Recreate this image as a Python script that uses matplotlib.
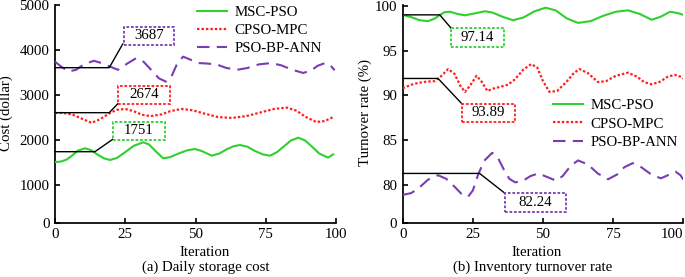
import matplotlib
matplotlib.use("Agg")
import matplotlib.pyplot as plt
from matplotlib.patches import Rectangle

plt.rcParams['font.family'] = ['Liberation Serif', 'DejaVu Serif']
FS = 10.7

# ---------------- data: (a) Daily storage cost ----------------
cost_msc_x = [0, 2, 4, 6, 8, 10.7, 13, 15, 17.5, 19.6, 22, 25, 28, 31.4, 33.5, 35.5, 38.5, 41, 44, 47,
              49.8, 52, 55.8, 58.5, 61, 63.5, 65.8, 68.5, 71, 74, 76.5, 79, 81.5, 84, 86.6, 89, 91.5, 94,
              97.2, 99]
cost_msc_y = [1510, 1520, 1560, 1650, 1760, 1816, 1770, 1680, 1590, 1556, 1600, 1730, 1870, 1949, 1900,
              1770, 1593, 1620, 1700, 1770, 1800, 1760, 1651, 1700, 1790, 1860, 1889, 1850, 1760, 1680,
              1651, 1730, 1860, 1990, 2051, 1990, 1850, 1700, 1607, 1682]
cost_cpso_x = [0, 3, 6, 9, 13, 16, 19.6, 22, 25, 28, 31, 34, 38, 41, 45, 49, 53, 58, 63, 68, 73, 78,
               82.5, 86, 89, 93, 96, 99]
cost_cpso_y = [2600, 2600, 2570, 2490, 2380, 2460, 2600, 2670, 2690, 2640, 2560, 2530, 2570, 2640, 2690,
               2660, 2590, 2510, 2490, 2530, 2610, 2690, 2720, 2650, 2520, 2400, 2420, 2510]
cost_pso_x = [0, 2, 4.8, 7.5, 10.5, 13.9, 17, 19.6, 22.4, 25.5, 28.8, 31.5, 34.5, 37, 39.5, 41.5, 43.5,
              45.6, 48, 51, 54, 57.5, 61, 64.8, 68.5, 72.5, 76.9, 80.5, 84.5, 88.3, 91, 93.5, 96.1, 98, 99.5]
cost_pso_y = [3740, 3640, 3520, 3560, 3690, 3760, 3700, 3630, 3560, 3690, 3815, 3740, 3540, 3370, 3296,
              3420, 3700, 3852, 3790, 3710, 3700, 3680, 3600, 3560, 3600, 3680, 3710, 3660, 3560, 3490,
              3540, 3650, 3710, 3660, 3550]

# ---------------- data: (b) Inventory turnover rate ----------------
rate_msc_x = [0, 3, 6, 9, 11.5, 13.3, 15, 16.8, 19.5, 22.2, 25.5, 29.3, 32, 35.5, 39.3, 43, 47, 50.9,
              54.5, 58.5, 62.5, 67, 71.5, 76, 80.3, 84.5, 88.7, 92, 95.3, 98, 100]
rate_msc_y = [99.0, 98.75, 98.4, 98.3, 98.6, 99.0, 99.3, 99.35, 99.1, 98.95, 99.15, 99.4, 99.25, 98.8,
              98.4, 98.7, 99.4, 99.8, 99.5, 98.6, 98.1, 98.3, 98.9, 99.35, 99.5, 99.1, 98.45, 98.8, 99.35,
              99.2, 99.0]
rate_cpso_x = [0, 3, 5.5, 8.5, 11.4, 13.5, 16.2, 18.5, 20.5, 22.2, 24, 26.3, 28, 30.2, 32, 34, 37.5, 40,
               43, 45.8, 48, 50, 52.3, 55, 58, 61, 63, 66, 69.6, 72.5, 76, 80.3, 83.5, 86, 88.6, 91.5,
               94.5, 96.9, 99, 100]
rate_cpso_y = [90.8, 91.2, 91.4, 91.55, 91.6, 92.1, 92.95, 92.4, 91.1, 90.4, 91.1, 92.2, 91.6, 90.5,
               90.75, 90.9, 91.2, 91.8, 92.9, 93.5, 93.1, 91.6, 90.4, 90.5, 91.4, 92.5, 92.95, 92.5, 91.5,
               91.6, 92.2, 92.55, 92.1, 91.5, 91.25, 91.5, 92.1, 92.3, 92.1, 91.9]
rate_pso_x = [0, 3, 5.5, 9, 12.6, 15.5, 17.9, 21, 23.3, 25, 26.8, 29, 31.9, 34, 36.1, 38, 40.1, 43, 45.5,
              48.3, 51.5, 54.6, 57, 60, 62.5, 66, 69.5, 73.2, 76.5, 79, 82, 85, 88.5, 92, 94.5, 97.2, 99,
              100]
rate_pso_y = [78.9, 79.1, 79.6, 80.6, 81.1, 80.7, 80.0, 79.0, 78.7, 79.4, 81.1, 82.7, 83.6, 83.0, 81.7,
              80.7, 80.3, 80.5, 81.0, 81.3, 80.9, 80.5, 81.0, 82.2, 82.75, 82.3, 81.3, 80.65, 81.2, 82.0,
              82.45, 82.0, 81.2, 80.75, 81.1, 81.5, 81.1, 80.6]

series_names = ['MSC-PSO', 'CPSO-MPC', 'PSO-BP-ANN']
cost_ticks = ['0', '1000', '2000', '3000', '4000', '5000']
rate_ticks = ['0', '80', '85', '90', '95', '100']
x_ticks = [0, 25, 50, 75, 100]

# annotation callouts: label, level, knee x, end (x, y), box (x0, x1, y0, y1)
cost_notes = [
    ('1751', 1740, 14.2, 20.7, 2022, 20.6, 39.1, 2000, 2407),
    ('2674', 2607, 19.3, 22.5, 2815, 22.5, 40.9, 2800, 3207),
    ('3687', 3607, 19.3, 24.1, 4133, 24.6, 42.3, 4111, 4518),
]
rate_notes = [
    ('97.14', 99.0, 13.2, 17.3, 97.5, 17.3, 36.1, 95.45, 97.5),
    ('93.89', 91.9, 12.6, 21.5, 88.94, 21.0, 40.0, 87.07, 89.05),
    ('82.24', 81.3, 27.4, 36.5, 79.07, 36.5, 58.2, 77.0, 79.07),
]

GREEN = '#2fd02f'
RED = '#ff1f1f'
PURPLE = '#7a3cb4'
colors = [GREEN, RED, PURPLE]
styles = [dict(ls='-', lw=1.5), dict(ls=(0, (1.1, 0.9)), lw=1.6), dict(ls=(0, (6, 3.5)), lw=1.5)]

W, H = 685, 277
fig = plt.figure(figsize=(W / 100, H / 100), dpi=100)

def px_axes(x0, x1, ytop, ybot):
    return fig.add_axes([x0 / W, 1 - ybot / H, (x1 - x0) / W, (ybot - ytop) / H])

axL = px_axes(55, 336, 5, 222.7)
axR = px_axes(402.7, 683.3, 5, 222.7)

def style(ax):
    for s in ['top', 'right']:
        ax.spines[s].set_visible(False)
    for s in ['left', 'bottom']:
        ax.spines[s].set_linewidth(1.25)
    ax.tick_params(direction='in', length=3.5, width=1.2, labelsize=FS, pad=4)
    ax.set_xlim(0, 100)
    ax.set_xticks(x_ticks)
    ax.set_xticklabels([str(t) for t in x_ticks])

def draw_notes(ax, notes, cols):
    for (lab, lev, kx, ex, ey, bx0, bx1, by0, by1), c in zip(notes, cols):
        ax.plot([0, kx, ex], [lev, lev, ey], color='black', lw=1.0, zorder=4, clip_on=False)
        ax.add_patch(Rectangle((bx0, by0), bx1 - bx0, by1 - by0, fill=True, fc='white', ec=c,
                               lw=1.3, ls=(0, (1.5, 1)), zorder=5))
        ax.text((bx0 + bx1) / 2, (by0 + by1) / 2, lab, ha='center', va='center', fontsize=FS, zorder=6)

# ---- left panel ----
style(axL)
for xs, ys, c, st, n in zip([cost_msc_x, cost_cpso_x, cost_pso_x], [cost_msc_y, cost_cpso_y, cost_pso_y],
                            colors, styles, series_names):
    axL.plot(xs, ys, color=c, label=n, zorder=3, **st)
draw_notes(axL, cost_notes, colors)
axL.set_ylim(162, 5000)
axL.set_yticks([162, 1000, 2000, 3000, 4000, 5000])
axL.set_yticklabels(cost_ticks)

# ---- right panel ----
style(axR)
for xs, ys, c, st, n in zip([rate_msc_x, rate_cpso_x, rate_pso_x], [rate_msc_y, rate_cpso_y, rate_pso_y],
                            colors, styles, series_names):
    axR.plot(xs, ys, color=c, label=n, zorder=3, **st)
draw_notes(axR, rate_notes, colors)
axR.set_ylim(75.8, 100.1)
axR.set_yticks([75.8, 80, 85, 90, 95, 100])
axR.set_yticklabels(rate_ticks)
axR.get_xticklabels()[-1].set_horizontalalignment('right')
axL.get_xticklabels()[-1].set_horizontalalignment('center')

# legends
leg_kw = dict(frameon=False, fontsize=FS, handlelength=2.0, handletextpad=0.5,
              borderpad=0, borderaxespad=0, loc='upper left')
axL.legend(bbox_to_anchor=(197 / W, 1 - 6 / H), bbox_transform=fig.transFigure, labelspacing=0.3, **leg_kw)
axR.legend(bbox_to_anchor=(553 / W, 1 - 99 / H), bbox_transform=fig.transFigure, labelspacing=0.32, **leg_kw)

# labels
fig.text(6.7 / W, 1 - 113 / H, 'Cost (dollar)', rotation=90, ha='center', va='center', fontsize=FS)
fig.text(365 / W, 1 - 113 / H, 'Turnover rate (%)', rotation=90, ha='center', va='center', fontsize=FS)
fig.text(205 / W, 1 - 252 / H, 'Iteration', ha='center', va='center', fontsize=FS)
fig.text(537 / W, 1 - 252 / H, 'Iteration', ha='center', va='center', fontsize=FS)
fig.text(205.5 / W, 1 - 267.5 / H, '(a) Daily storage cost', ha='center', va='center', fontsize=FS)
fig.text(532.5 / W, 1 - 267.5 / H, '(b) Inventory turnover rate', ha='center', va='center', fontsize=FS)

fig.savefig('out.png', dpi=100)
